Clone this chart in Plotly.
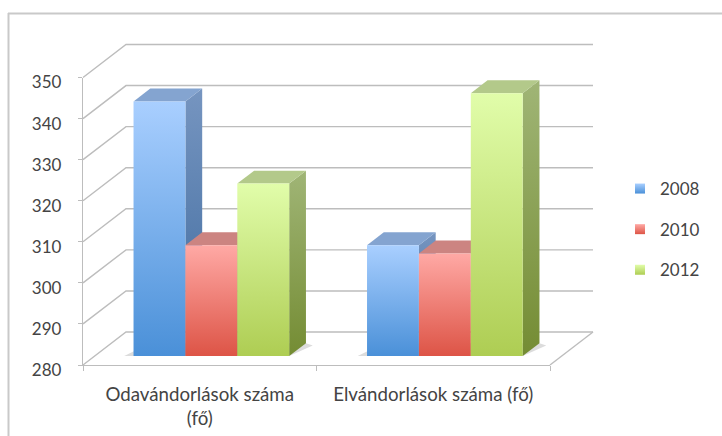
import plotly.graph_objects as go

categories = ["Odavándorlások száma<br>(fő)", "Elvándorlások száma (fő)"]
years = ["2008", "2010", "2012"]
values_2008 = [342, 307]
values_2010 = [307, 305]
values_2012 = [322, 344]
series = [values_2008, values_2010, values_2012]
y_ticks = [280, 290, 300, 310, 320, 330, 340, 350]

W, H = 722, 436
FRONT_L, FRONT_R, FRONT_B, FRONT_T = 83, 550, 365, 77.5
CAT_PX = (FRONT_R - FRONT_L) / 2
VAL_PX = (FRONT_B - FRONT_T) / 70
DX = 43 / CAT_PX      # depth shift of the oblique view, category units
DY = 33 / VAL_PX      # depth shift of the oblique view, value units

BAR_W = 1 / 4.5
GAP = 0.75 * BAR_W
D0, D1 = 0.27, 0.66   # bar depth range in the box

FRONT = [
    ["#a9cfff", "#4a90d8"],
    ["#ffa9a5", "#dd5446"],
    ["#e1fdaa", "#aecd53"],
]
SIDE = [
    ["#7695c0", "#3e6a9e"],
    ["#c07c78", "#98403a"],
    ["#a0b576", "#748c33"],
]
TOP = ["#84a4d0", "#cc8481", "#b3c98a"]
GRID = "#bdbdbd"
TEXT = "#444444"
FONT = "Lato"


def proj(x, y, d):
    return x + d * DX, y + d * DY


def poly(pts, color=None, grad=None):
    xs = [p[0] for p in pts] + [pts[0][0]]
    ys = [p[1] for p in pts] + [pts[0][1]]
    kw = dict(x=xs, y=ys, xaxis="x2", yaxis="y2", mode="lines", fill="toself",
              line=dict(width=0), showlegend=False, hoverinfo="skip")
    if grad:
        kw["fillgradient"] = dict(type="vertical", start=min(ys), stop=max(ys),
                                  colorscale=[[0, grad[1]], [1, grad[0]]])
    else:
        kw["fillcolor"] = color
    return go.Scatter(**kw)


def line(pts, width=1.4, color=GRID):
    return go.Scatter(x=[p[0] for p in pts], y=[p[1] for p in pts], xaxis="x2", yaxis="y2",
                      mode="lines", line=dict(width=width, color=color),
                      showlegend=False, hoverinfo="skip")


fig = go.Figure()

# Front-plane axes carry the real ticks and labels
fig.add_trace(go.Scatter(x=[c for c in categories], y=[280, 280], mode="markers",
                         marker=dict(opacity=0), showlegend=False, hoverinfo="skip"))

# Walls
for v in y_ticks:
    fig.add_trace(line([(0, v), proj(0, v, 1), proj(2, v, 1)]))
fig.add_trace(line([proj(2, 280, 1), (2, 280)]))

# Floor shadow
for g in range(2):
    left = g + GAP
    right = left + 3 * BAR_W
    fig.add_trace(poly([proj(left - 0.04, 280, D0), proj(right, 280, D0),
                        proj(right + 0.042, 280, D1 - 0.07), proj(right, 280, D1),
                        proj(left, 280, D1)], color="#dcdcdc"))

# Bars
for g in range(2):
    for s, vals in enumerate(series):
        v = vals[g]
        x0 = g + GAP + s * BAR_W
        x1 = x0 + BAR_W
        fig.add_trace(poly([proj(x1, 280, D0), proj(x1, 280, D1), proj(x1, v, D1), proj(x1, v, D0)],
                           grad=SIDE[s]))
        fig.add_trace(poly([proj(x0, v, D0), proj(x1, v, D0), proj(x1, v, D1), proj(x0, v, D1)],
                           color=TOP[s]))
        fig.add_trace(poly([proj(x0, 280, D0), proj(x1, 280, D0), proj(x1, v, D0), proj(x0, v, D0)],
                           grad=FRONT[s]))

# Legend entries
for s, year in enumerate(years):
    fig.add_trace(go.Scatter(x=[None], y=[None], xaxis="x2", yaxis="y2", mode="markers", name=year,
                             legendgroup=year,
                             marker=dict(symbol="square", size=10, color=FRONT[s][0],
                                         gradient=dict(type="vertical", color=FRONT[s][1]))))

fig.update_layout(
    width=W, height=H, margin=dict(l=0, r=0, t=0, b=0, autoexpand=False),
    paper_bgcolor="white", plot_bgcolor="rgba(0,0,0,0)",
    font=dict(family=FONT, size=17, color=TEXT),
    showlegend=True,
    legend=dict(x=620 / W, y=1 - 171 / H, xanchor="left", yanchor="top", tracegroupgap=15.5,
                bgcolor="rgba(0,0,0,0)", font=dict(size=17, color=TEXT)),
    xaxis=dict(domain=[FRONT_L / W, FRONT_R / W], type="category", categoryorder="array",
               categoryarray=categories, tickson="boundaries", ticks="outside", ticklen=5,
               tickcolor=GRID, tickwidth=1.4, showline=True, linecolor=GRID, linewidth=1.4,
               showgrid=False, zeroline=False, range=[-0.5, 1.5], tickfont=dict(size=18.7, color=TEXT),
               ticklabelstandoff=12, anchor="y"),
    yaxis=dict(domain=[(H - FRONT_B) / H, (H - FRONT_T) / H], range=[280, 350], tickvals=y_ticks,
               ticks="outside", ticklen=4, tickcolor=GRID, tickwidth=1.4, showline=True,
               linecolor=GRID, linewidth=1.4, showgrid=False, zeroline=False,
               tickfont=dict(size=17, color=TEXT), ticklabelstandoff=13, ticklabelshift=5, anchor="x"),
    xaxis2=dict(domain=[0, 1], range=[-FRONT_L / CAT_PX, (W - FRONT_L) / CAT_PX],
                visible=False, anchor="y2"),
    yaxis2=dict(domain=[0, 1], range=[280 - (H - FRONT_B) / VAL_PX, 280 + FRONT_B / VAL_PX],
                visible=False, anchor="x2"),
    shapes=[
        dict(type="line", xref="paper", yref="paper", x0=8 / W, x1=1, y0=1 - 13.5 / H, y1=1 - 13.5 / H,
             line=dict(color="#c9c9c9", width=2)),
        dict(type="line", xref="paper", yref="paper", x0=8.5 / W, x1=8.5 / W, y0=0, y1=1 - 13 / H,
             line=dict(color="#c9c9c9", width=2)),
    ],
)
fig.write_html("out.html", config=dict(displayModeBar=False),
               post_script="document.body.style.margin='0';")
